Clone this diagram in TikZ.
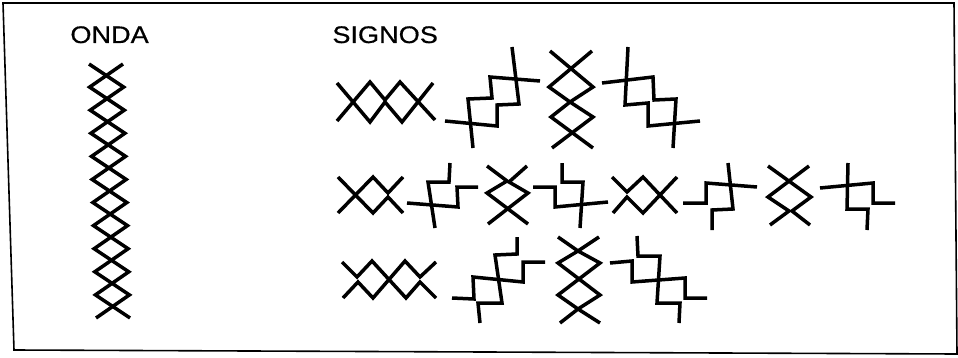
\documentclass[tikz,border=0pt]{standalone}
\usepackage{fontspec}
\newfontfamily\signfont[FakeStretch=1.13, FakeBold=0.6]{Liberation Sans}

\begin{document}
\begin{tikzpicture}[x=0.5pt, y=-0.5pt, line cap=butt, line join=miter]

% --- Styles ---
\tikzset{
    boxline/.style={
        draw=black,
        line width=0.8pt
    },
    glyph/.style={
        draw=black,
        line width=1.75pt
    },
    headtext/.style={
        font=\signfont\fontsize{12}{14}\selectfont,
        inner sep=0pt,
        anchor=base west
    }
}

\useasboundingbox (0,0) rectangle (958,358);

% --- Kader ---
\draw[boxline] (3,3) -- (954,3) -- (957,354) -- (14,350) -- cycle;

% --- Titels ---
\node[headtext] (onda) at (70,43) {ONDA};
\node[headtext] (signos) at (332,43) {SIGNOS};

% =========================================================================
% --- Onda: twee zigzaglijnen, gespiegeld ---
% =========================================================================
\draw[glyph]
    plot[domain=-1:21, samples=23]
        ({106 + 0.32*(\x+1) + 17*(1-abs(mod(\x+2,2)-1))*sign(sin(45*\x))},
         {64 + 11.545*(\x+1)});
\draw[glyph]
    plot[domain=-1:21, samples=23]
        ({106 + 0.32*(\x+1) - 17*(1-abs(mod(\x+2,2)-1))*sign(sin(45*\x))},
         {64 + 11.545*(\x+1)});

% =========================================================================
% --- Signos, rij 1 ---
% =========================================================================
\draw[glyph] (337,121) -- (370,82) -- (385,100) -- (400,82) -- (435,120);
\draw[glyph] (337,83) -- (370,122) -- (385,102) -- (402,122) -- (433,83);

\draw[glyph] (445,121) -- (497,126) -- (497,105) -- (519,104) -- (512,47);
\draw[glyph] (473,148) -- (468,99) -- (492,98) -- (490,77) -- (540,81);

\draw[glyph] (550,51) -- (593,87) -- (570,102) -- (593,117) -- (552,148);
\draw[glyph] (592,51) -- (549,87) -- (570,102) -- (551,117) -- (593,148);

\draw[glyph] (602,83) -- (653,77) -- (654,100) -- (676,99) -- (673,148);
\draw[glyph] (628,47) -- (625,105) -- (648,103) -- (648,126) -- (700,121);

% =========================================================================
% --- Signos, rij 2 ---
% =========================================================================
\draw[glyph] (338,213) -- (373,177) -- (388,193) -- (403,177);
\draw[glyph] (338,177) -- (373,213) -- (388,197) -- (403,213);

\draw[glyph] (407,203) -- (458,207) -- (457,187) -- (478,187);
\draw[glyph] (450,163) -- (449,182) -- (428,182) -- (435,228);

\draw[glyph] (487,166) -- (507,181) -- (487,193) -- (528,224);
\draw[glyph] (527,166) -- (509,182) -- (528,193) -- (488,224);

\draw[glyph] (533,187) -- (555,187) -- (555,207) -- (608,202);
\draw[glyph] (562,163) -- (562,182) -- (583,182) -- (580,228);

\draw[glyph] (612,177) -- (627,192) -- (643,177) -- (677,213);
\draw[glyph] (613,213) -- (627,197) -- (643,213) -- (677,177);

\draw[glyph] (683,203) -- (706,203) -- (706,183) -- (757,187);
\draw[glyph] (728,163) -- (733,209) -- (712,210) -- (712,230);

\draw[glyph] (768,166) -- (811,197) -- (792,211) -- (810,225);
\draw[glyph] (809,166) -- (768,197) -- (789,211) -- (770,225);

\draw[glyph] (820,188) -- (873,183) -- (873,203) -- (895,203);
\draw[glyph] (848,163) -- (847,209) -- (868,209) -- (867,230);

% =========================================================================
% --- Signos, rij 3 ---
% =========================================================================
\draw[glyph] (342,262) -- (357,277) -- (372,261) -- (406,298) -- (420,282) -- (436,298);
\draw[glyph] (343,298) -- (358,282) -- (373,298) -- (405,261) -- (420,277) -- (436,262);

\draw[glyph] (452,298) -- (474,299) -- (473,277) -- (523,282) -- (523,262) -- (545,262);
\draw[glyph] (517,237) -- (517,254) -- (495,255) -- (502,303) -- (478,303) -- (480,323);

\draw[glyph] (558,237) -- (578,251) -- (558,263) -- (600,295) -- (578,309) -- (600,323);
\draw[glyph] (599,237) -- (578,251) -- (600,263) -- (558,295) -- (578,309) -- (560,323);

\draw[glyph] (610,263) -- (632,261) -- (632,282) -- (685,278) -- (685,298) -- (707,298);
\draw[glyph] (637,236) -- (638,256) -- (660,256) -- (657,303) -- (680,303) -- (679,323);

\end{tikzpicture}
\end{document}
